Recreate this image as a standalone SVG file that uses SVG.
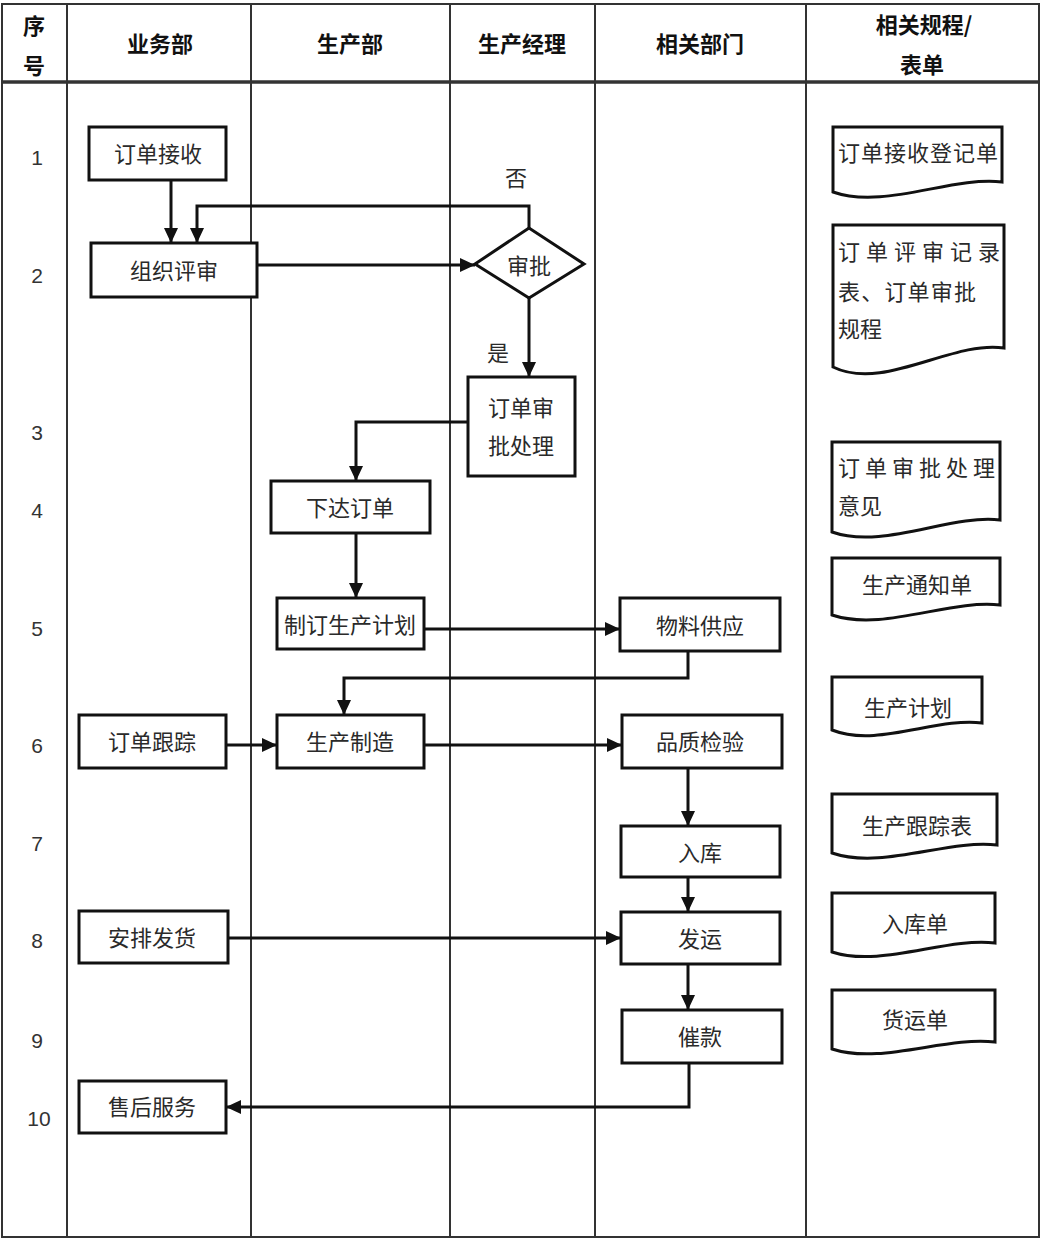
<svg xmlns="http://www.w3.org/2000/svg" width="1044" height="1240" viewBox="0 0 1044 1240">
<style>
.grid{stroke:#333;stroke-width:2;fill:none}
.hline{stroke:#333;stroke-width:3.5;fill:none}
.box{fill:#fff;stroke:#111;stroke-width:3}
.doc{fill:#fff;stroke:#111;stroke-width:3}
.t{font-family:"Noto Sans CJK SC","Noto Sans",sans-serif;font-size:22px;fill:#2a2a2a;text-anchor:middle;dominant-baseline:central}
.tl{font-family:"Noto Sans CJK SC","Noto Sans",sans-serif;font-size:22px;fill:#2a2a2a;dominant-baseline:central}
.h{font-family:"Noto Sans CJK SC","Noto Sans",sans-serif;font-size:22px;font-weight:bold;fill:#111;text-anchor:middle;dominant-baseline:central}
.n{font-family:"Liberation Sans",sans-serif;font-size:21px;fill:#333;text-anchor:middle;dominant-baseline:central}
.c{fill:none;stroke:#111;stroke-width:3;marker-end:url(#arr)}
</style>
<defs>
<marker id="arr" markerUnits="userSpaceOnUse" markerWidth="16" markerHeight="14" refX="15" refY="7" orient="auto">
<path d="M0,0 L15,7 L0,14 Z" fill="#111"/>
</marker>
</defs>
<rect width="1044" height="1240" fill="#fff"/>
<g id="table">
<rect class="grid" x="2" y="4" width="1037" height="1233" stroke-width="2.5"/>
<line class="hline" x1="2" y1="82" x2="1039" y2="82"/>
<line class="grid" x1="67" y1="4" x2="67" y2="1237"/>
<line class="grid" x1="251" y1="4" x2="251" y2="1237"/>
<line class="grid" x1="450" y1="4" x2="450" y2="1237"/>
<line class="grid" x1="595" y1="4" x2="595" y2="1237"/>
<line class="grid" x1="806" y1="4" x2="806" y2="1237"/>
<text class="h" x="34" y="24">序</text>
<text class="h" x="34" y="64">号</text>
<text class="h" x="160" y="42">业务部</text>
<text class="h" x="350" y="42">生产部</text>
<text class="h" x="522" y="42">生产经理</text>
<text class="h" x="700" y="42">相关部门</text>
<text class="h" x="924" y="23">相关规程/</text>
<text class="h" x="922" y="63">表单</text>
<text class="n" x="37" y="157">1</text>
<text class="n" x="37" y="275">2</text>
<text class="n" x="37" y="432">3</text>
<text class="n" x="37" y="510">4</text>
<text class="n" x="37" y="628">5</text>
<text class="n" x="37" y="745">6</text>
<text class="n" x="37" y="843">7</text>
<text class="n" x="37" y="940">8</text>
<text class="n" x="37" y="1040">9</text>
<text class="n" x="39" y="1118">10</text>
</g>
<g id="connectors">
<path class="c" d="M171,180 V243"/>
<path class="c" d="M529,228 V206 H197 V243"/>
<path class="c" d="M257,265 H475"/>
<path class="c" d="M529,298 V377"/>
<path class="c" d="M468,422 H356 V481"/>
<path class="c" d="M356,533 V598"/>
<path class="c" d="M424,629 H620"/>
<path class="c" d="M688,651 V678 H344 V715"/>
<path class="c" d="M226,745 H277"/>
<path class="c" d="M424,745 H622"/>
<path class="c" d="M688,768 V826"/>
<path class="c" d="M688,877 V912"/>
<path class="c" d="M228,938 H621"/>
<path class="c" d="M688,964 V1010"/>
<path class="c" d="M689,1063 V1107 H226"/>
<text class="t" x="516" y="176">否</text>
<text class="t" x="498" y="351">是</text>
</g>
<g id="n1"><rect class="box" x="89" y="127" width="137" height="53"/><text class="t" x="158" y="152">订单接收</text></g>
<g id="n2"><rect class="box" x="91" y="243" width="166" height="54"/><text class="t" x="174" y="269">组织评审</text></g>
<g id="n3"><path class="box" d="M475,264 L529,228 L584,264 L529,298 Z"/><text class="t" x="529" y="264">审批</text></g>
<g id="n4"><rect class="box" x="468" y="377" width="107" height="99"/><text class="t" x="521" y="406">订单审</text><text class="t" x="521" y="444">批处理</text></g>
<g id="n5"><rect class="box" x="271" y="481" width="159" height="52"/><text class="t" x="350" y="506">下达订单</text></g>
<g id="n6"><rect class="box" x="277" y="598" width="147" height="51"/><text class="t" x="350" y="623">制订生产计划</text></g>
<g id="n7"><rect class="box" x="620" y="598" width="160" height="53"/><text class="t" x="700" y="624">物料供应</text></g>
<g id="n8"><rect class="box" x="79" y="715" width="147" height="53"/><text class="t" x="152" y="740">订单跟踪</text></g>
<g id="n9"><rect class="box" x="277" y="715" width="147" height="53"/><text class="t" x="350" y="740">生产制造</text></g>
<g id="n10"><rect class="box" x="622" y="715" width="160" height="53"/><text class="t" x="700" y="740">品质检验</text></g>
<g id="n11"><rect class="box" x="621" y="826" width="159" height="51"/><text class="t" x="700" y="851">入库</text></g>
<g id="n12"><rect class="box" x="79" y="911" width="149" height="52"/><text class="t" x="152" y="936">安排发货</text></g>
<g id="n13"><rect class="box" x="621" y="912" width="159" height="52"/><text class="t" x="700" y="937">发运</text></g>
<g id="n14"><rect class="box" x="622" y="1010" width="160" height="53"/><text class="t" x="700" y="1035">催款</text></g>
<g id="n15"><rect class="box" x="79" y="1081" width="147" height="52"/><text class="t" x="152" y="1105">售后服务</text></g>
<g id="d1"><path class="doc" d="M833,127 H1002 V182 C951,176 884,210 833,192 Z"/><text class="tl" x="838" y="151" textLength="160" lengthAdjust="spacing">订单接收登记单</text></g>
<g id="d2"><path class="doc" d="M833,225 H1004 V348 C952,340 884,392 833,367 Z"/><text class="tl" x="838" y="250" textLength="162" lengthAdjust="spacing">订单评审记录</text><text class="tl" x="838" y="290" textLength="138" lengthAdjust="spacing">表、订单审批</text><text class="tl" x="838" y="327">规程</text></g>
<g id="d3"><path class="doc" d="M832,442 H1000 V520 C950,514 883,550 832,532 Z"/><text class="tl" x="838" y="466" textLength="157" lengthAdjust="spacing">订单审批处理</text><text class="tl" x="838" y="504">意见</text></g>
<g id="d4"><path class="doc" d="M832,558 H1000 V605 C950,599 883,632 832,615 Z"/><text class="t" x="917" y="583">生产通知单</text></g>
<g id="d5"><path class="doc" d="M832,677 H982 V723 C937,717 877,748 832,730 Z"/><text class="t" x="908" y="706">生产计划</text></g>
<g id="d6"><path class="doc" d="M832,794 H997 V845 C948,839 882,870 832,853 Z"/><text class="t" x="917" y="824">生产跟踪表</text></g>
<g id="d7"><path class="doc" d="M832,893 H995 V943 C946,937 881,968 832,952 Z"/><text class="t" x="915" y="922">入库单</text></g>
<g id="d8"><path class="doc" d="M832,990 H995 V1042 C946,1036 881,1065 832,1049 Z"/><text class="t" x="915" y="1018">货运单</text></g>
</svg>
